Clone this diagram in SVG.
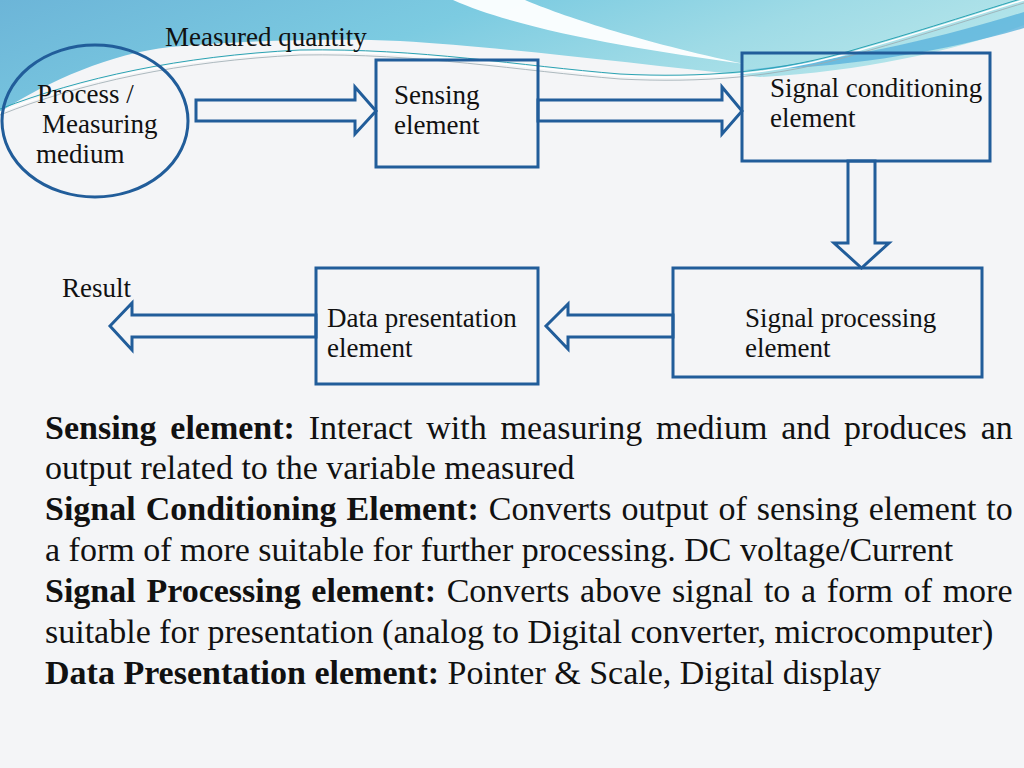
<svg xmlns="http://www.w3.org/2000/svg" width="1024" height="768" viewBox="0 0 1024 768">
<defs>
<linearGradient id="bannerGrad" x1="0" y1="0" x2="1" y2="0.3">
<stop offset="0" stop-color="#6cb5d8"/>
<stop offset="0.45" stop-color="#7ccbe1"/>
<stop offset="0.75" stop-color="#9fdbe6"/>
<stop offset="1" stop-color="#b5e5ea"/>
</linearGradient>
<style>
.box{fill:none;stroke:#215d9a;stroke-width:3}
.arrow{fill:none;stroke:#215d9a;stroke-width:3;stroke-linejoin:miter}
.lbl{font-family:"Liberation Serif","Times New Roman",serif;font-size:27px;fill:#111}
.body{font-family:"Liberation Serif","Times New Roman",serif;font-size:34px;fill:#111}
.b{font-weight:bold}
</style>
</defs>
<rect width="1024" height="768" fill="#f4f5f7"/>
<g id="background">
<path d="M0,0 H1024 V25 C960,50 860,72 760,77 C620,62 500,47 400,41 C340,38 250,40 170,47 C110,54 50,80 0,112 Z" fill="url(#bannerGrad)"/>
<path d="M525,0 C560,15 640,42 745,64 C640,50 520,30 453,0 Z" fill="#ffffff" opacity="0.95"/>
<path d="M745,70 C850,60 950,35 1024,12 V28 C950,50 850,68 745,70 Z" fill="#5ab3dc" opacity="0.8"/>
<path d="M0,112 C80,80 180,58 300,52 C420,50 520,68 620,76 C700,80 780,75 860,50 C930,30 990,10 1024,0" fill="none" stroke="#ffffff" stroke-width="1.5"/>
<path d="M0,109 C80,78 180,56 300,50 C420,48 520,66 620,74 C700,78 780,73 860,48 C930,28 990,8 1024,-2" fill="none" stroke="#2aa3b3" stroke-width="1"/>
<path d="M0,115 C80,83 180,61 300,55 C420,53 520,71 620,79 C700,83 780,78 860,53 C930,33 990,13 1024,3" fill="none" stroke="#9aa9b0" stroke-width="0.8"/>
</g>
<text class="lbl" x="165" y="46">Measured quantity</text>
<g id="process">
<ellipse cx="95" cy="121" rx="93" ry="76" class="box"/>
<text class="lbl" x="37" y="103">Process /</text>
<text class="lbl" x="42" y="133">Measuring</text>
<text class="lbl" x="36" y="163">medium</text>
</g>
<g id="sensing">
<rect x="376" y="60" width="162" height="107" class="box"/>
<text class="lbl" x="394" y="104">Sensing</text>
<text class="lbl" x="394" y="134">element</text>
</g>
<g id="conditioning">
<rect x="742" y="53" width="248" height="108" class="box"/>
<text class="lbl" x="770" y="97">Signal conditioning</text>
<text class="lbl" x="770" y="127">element</text>
</g>
<g id="processing">
<rect x="673" y="268" width="309" height="109" class="box"/>
<text class="lbl" x="745" y="327">Signal processing</text>
<text class="lbl" x="745" y="357">element</text>
</g>
<g id="presentation">
<rect x="316" y="268" width="222" height="116" class="box"/>
<text class="lbl" x="327" y="327">Data presentation</text>
<text class="lbl" x="327" y="357">element</text>
</g>
<g id="result">
<text class="lbl" x="62" y="297">Result</text>
</g>
<g id="connectors">
<polygon class="arrow" points="196,100 355,100 355,87 376,111 355,134 355,121 196,121"/>
<polygon class="arrow" points="538,100 722,100 722,87 742,111 722,134 722,121 538,121"/>
<polygon class="arrow" points="848,161 848,243 834,243 861.5,268 889,243 875,243 875,161"/>
<polygon class="arrow" points="673,315 568,315 568,304 546,326 568,349 568,337 673,337"/>
<polygon class="arrow" points="316,315 132,315 132,303 110,326 132,350 132,337 316,337"/>
</g>
<g id="description">
<text class="body" x="45" y="439" word-spacing="5.3"><tspan class="b">Sensing element:</tspan> Interact with measuring medium and produces an</text>
<text class="body" x="45" y="479">output related to the variable measured</text>
<text class="body" x="45" y="520" word-spacing="1.5"><tspan class="b">Signal Conditioning Element:</tspan> Converts output of sensing element to</text>
<text class="body" x="45" y="561">a form of more suitable for further processing. DC voltage/Current</text>
<text class="body" x="45" y="602" word-spacing="2.2"><tspan class="b">Signal Processing element:</tspan> Converts above signal to a form of more</text>
<text class="body" x="45" y="643">suitable for presentation (analog to Digital converter, microcomputer)</text>
<text class="body" x="45" y="684"><tspan class="b">Data Presentation element:</tspan> Pointer &amp; Scale, Digital display</text>
</g>
</svg>
